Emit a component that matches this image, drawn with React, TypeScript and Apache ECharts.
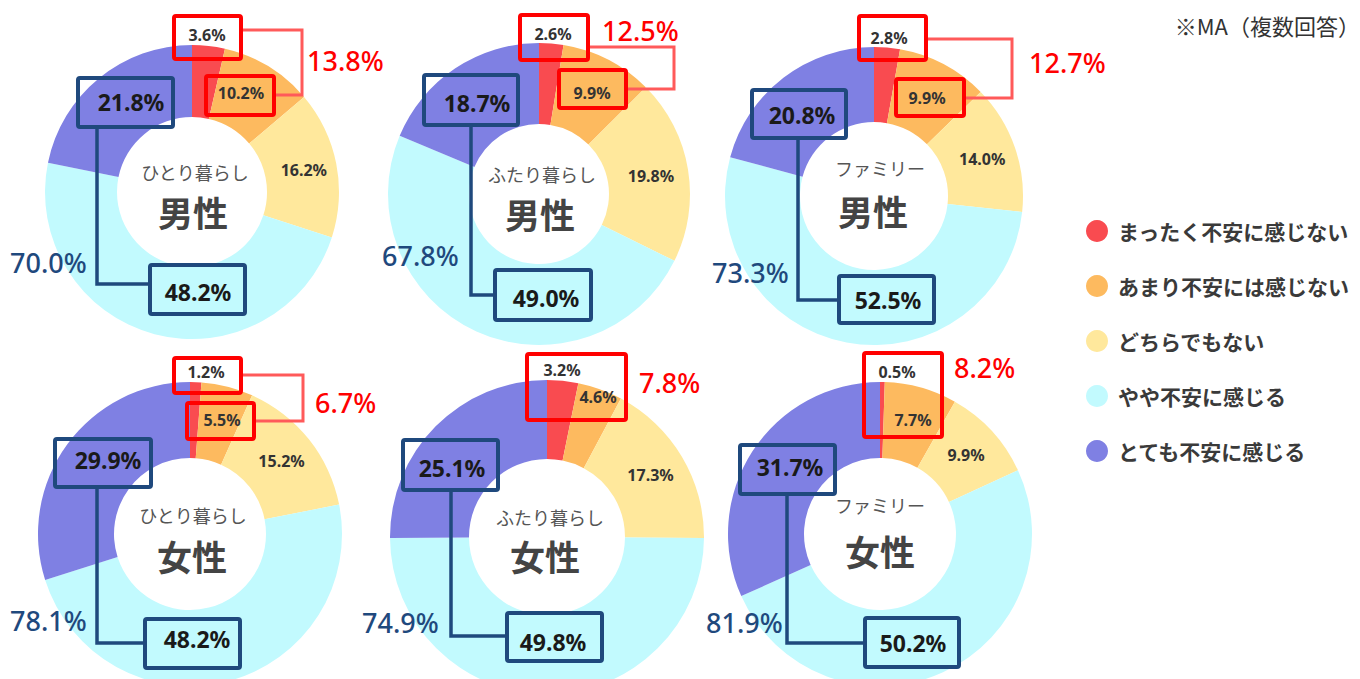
import React, { useEffect, useRef } from "react";
import * as echarts from "echarts";

// ---- data ----
const categories = [
  "まったく不安に感じない",
  "あまり不安には感じない",
  "どちらでもない",
  "やや不安に感じる",
  "とても不安に感じる",
];
const groups = ["ひとり暮らし", "ふたり暮らし", "ファミリー", "ひとり暮らし", "ふたり暮らし", "ファミリー"];
const genders = ["男性", "男性", "男性", "女性", "女性", "女性"];
const notAtAll = [3.6, 2.6, 2.8, 1.2, 3.2, 0.5];
const notVery = [10.2, 9.9, 9.9, 5.5, 4.6, 7.7];
const neutral = [16.2, 19.8, 14.0, 15.2, 17.3, 9.9];
const somewhat = [48.2, 49.0, 52.5, 48.2, 49.8, 50.2];
const veryMuch = [21.8, 18.7, 20.8, 29.9, 25.1, 31.7];
const notAnxiousTotal = [13.8, 12.5, 12.7, 6.7, 7.8, 8.2];
const anxiousTotal = [70.0, 67.8, 73.3, 78.1, 74.9, 81.9];
const note = "※MA（複数回答）";

// ---- styles / layout ----
const colors = ["#F94B50", "#FDBA5F", "#FFE89C", "#C2FAFE", "#7F80E3"];
const RED = "#FF0000";
const RED_LINE = "#FF5A5A";
const NAVY = "#1F497D";
const NUM_FONT = "'Noto Sans', 'Noto Sans CJK JP', sans-serif";
const JP_FONT = "'Noto Sans CJK JP', 'Noto Sans', sans-serif";

type Pt = [number, number];
type Box = [number, number, number, number];
interface Layout {
  c: Pt;
  r: [number, number];
  sub: Pt;
  gen: Pt;
  redBoxes: Box[];
  lbl0: Pt;
  lbl1: Pt;
  redLine: Pt[] | null;
  redTot: Pt;
  navyTop: Box;
  navyBot: Box;
  lblV: Pt;
  lblS: Pt;
  navyLine: Pt[];
  navyTot: Pt;
}

const layouts: Layout[] = [
  {
    c: [192, 192], r: [75, 147], sub: [195, 172], gen: [193, 211],
    redBoxes: [[172, 14, 71, 47], [204, 74, 72, 43]], lbl0: [207, 35], lbl1: [241, 93],
    redLine: [[243, 30], [302, 30], [302, 95], [276, 95]], redTot: [307, 60],
    navyTop: [76, 76, 99, 53], navyBot: [148, 263, 99, 53], lblV: [131, 102], lblS: [198, 292],
    navyLine: [[97, 129], [97, 284], [148, 284]], navyTot: [10, 262],
  },
  {
    c: [539, 194], r: [70, 151], sub: [542, 174], gen: [540, 213],
    redBoxes: [[518, 13, 72, 49], [557, 68, 71, 42]], lbl0: [553, 34], lbl1: [592, 93],
    redLine: [[590, 47], [674, 47], [674, 89], [628, 89]], redTot: [602, 30],
    navyTop: [422, 73, 98, 54], navyBot: [493, 268, 100, 54], lblV: [477, 103], lblS: [546, 298],
    navyLine: [[471, 127], [471, 295], [493, 295]], navyTot: [382, 255],
  },
  {
    c: [874, 196], r: [74, 149], sub: [880, 168], gen: [873, 210],
    redBoxes: [[857, 14, 71, 48], [894, 77, 72, 41]], lbl0: [889, 38], lbl1: [927, 98],
    redLine: [[928, 39], [1012, 39], [1012, 98], [966, 98]], redTot: [1029, 62],
    navyTop: [750, 88, 98, 52], navyBot: [837, 274, 99, 51], lblV: [802, 115], lblS: [888, 300],
    navyLine: [[798, 140], [798, 300], [837, 300]], navyTot: [712, 272],
  },
  {
    c: [190, 534], r: [76, 152], sub: [193, 515], gen: [192, 555],
    redBoxes: [[172, 356, 71, 39], [185, 401, 71, 40]], lbl0: [206, 372], lbl1: [222, 420],
    redLine: [[243, 375], [303, 375], [303, 421], [256, 421]], redTot: [315, 402],
    navyTop: [53, 437, 100, 52], navyBot: [143, 617, 99, 53], lblV: [108, 460], lblS: [197, 639],
    navyLine: [[97, 489], [97, 643], [143, 643]], navyTot: [10, 620],
  },
  {
    c: [547, 537], r: [78, 157], sub: [550, 517], gen: [545, 555],
    redBoxes: [[525, 352, 103, 70]], lbl0: [562, 370], lbl1: [598, 397],
    redLine: null, redTot: [639, 382],
    navyTop: [401, 438, 99, 54], navyBot: [505, 611, 99, 52], lblV: [452, 468], lblS: [553, 642],
    navyLine: [[451, 492], [451, 636], [505, 636]], navyTot: [362, 622],
  },
  {
    c: [880, 534], r: [76, 152], sub: [880, 505], gen: [880, 550],
    redBoxes: [[862, 351, 82, 88]], lbl0: [897, 372], lbl1: [913, 420],
    redLine: null, redTot: [954, 367],
    navyTop: [738, 443, 99, 53], navyBot: [863, 616, 98, 53], lblV: [790, 467], lblS: [913, 643],
    navyLine: [[787, 496], [787, 643], [863, 643]], navyTot: [706, 622],
  },
];

const fmt = (v: number) => v.toFixed(1) + "%";

function rectEl(b: Box, color: string, lw: number) {
  return {
    type: "rect",
    z: 100,
    silent: true,
    shape: { x: b[0] + lw / 2, y: b[1] + lw / 2, width: b[2] - lw, height: b[3] - lw, r: 2 },
    style: { fill: "none", stroke: color, lineWidth: lw },
  };
}

function textEl(p: Pt, text: string, size: number, color: string, weight: string, font: string, align = "center") {
  return {
    type: "text",
    z: 101,
    silent: true,
    x: p[0],
    y: p[1],
    style: {
      text,
      fontSize: size,
      fontWeight: weight,
      fill: color,
      fontFamily: font,
      align,
      verticalAlign: "middle",
    },
  };
}

function buildOption() {
  const series: any[] = [];
  const graphics: any[] = [];
  layouts.forEach((L, i) => {
    const vals = [notAtAll[i], notVery[i], neutral[i], somewhat[i], veryMuch[i]];
    series.push({
      type: "pie",
      center: L.c,
      radius: L.r,
      startAngle: 90,
      clockwise: true,
      silent: true,
      avoidLabelOverlap: false,
      itemStyle: { borderWidth: 0 },
      label: {
        show: false,
        position: "inside",
        formatter: (p: any) => fmt(p.value),
        fontSize: 16,
        fontWeight: "bold",
        color: "#333",
        fontFamily: NUM_FONT,
      },
      labelLine: { show: false },
      emphasis: { disabled: true },
      data: vals.map((v, k) => ({
        name: categories[k],
        value: v,
        itemStyle: { color: colors[k] },
        label: { show: k === 2 },
      })),
    });

    // center texts
    graphics.push(textEl(L.sub, groups[i], 18, "#555", "normal", JP_FONT));
    graphics.push(textEl(L.gen, genders[i], 35, "#444", "bold", JP_FONT));

    // red boxes & connector
    L.redBoxes.forEach((b) => graphics.push(rectEl(b, RED, 4)));
    if (L.redLine) {
      graphics.push({
        type: "polyline",
        z: 99,
        silent: true,
        shape: { points: L.redLine },
        style: { stroke: RED_LINE, lineWidth: 3, fill: "none" },
      });
    }
    graphics.push(textEl(L.lbl0, fmt(notAtAll[i]), 16, "#333", "bold", NUM_FONT));
    graphics.push(textEl(L.lbl1, fmt(notVery[i]), 16, "#333", "bold", NUM_FONT));
    graphics.push(textEl(L.redTot, fmt(notAnxiousTotal[i]), 27, RED, "500", NUM_FONT, "left"));

    // navy boxes & connector
    graphics.push(rectEl(L.navyTop, NAVY, 4));
    graphics.push(rectEl(L.navyBot, NAVY, 4));
    graphics.push({
      type: "polyline",
      z: 99,
      silent: true,
      shape: { points: L.navyLine },
      style: { stroke: NAVY, lineWidth: 3.5, fill: "none" },
    });
    graphics.push(textEl(L.lblV, fmt(veryMuch[i]), 23, "#1a1a1a", "bold", NUM_FONT));
    graphics.push(textEl(L.lblS, fmt(somewhat[i]), 23, "#1a1a1a", "bold", NUM_FONT));
    graphics.push(textEl(L.navyTot, fmt(anxiousTotal[i]), 27, NAVY, "500", NUM_FONT, "left"));
  });

  graphics.push(textEl([1360, 25], note, 22, "#333", "normal", JP_FONT, "right"));

  return {
    animation: false,
    backgroundColor: "#ffffff",
    legend: {
      data: categories,
      orient: "vertical",
      left: 1081,
      top: 215,
      icon: "circle",
      itemWidth: 22,
      itemHeight: 22,
      itemGap: 33,
      selectedMode: false,
      textStyle: {
        fontSize: 21,
        fontWeight: "bold",
        color: "#3a3a3a",
        fontFamily: JP_FONT,
        padding: [0, 0, 0, 5],
      },
    },
    series,
    graphic: { elements: graphics },
  };
}

export default function App() {
  const ref = useRef<HTMLDivElement>(null);
  useEffect(() => {
    if (!ref.current) return;
    const chart = echarts.init(ref.current, undefined, { renderer: "svg" });
    chart.setOption(buildOption() as any);
    return () => chart.dispose();
  }, []);
  return (
    <div
      ref={ref}
      style={{ position: "fixed", left: 0, top: 0, width: 1360, height: 679, background: "#fff" }}
    />
  );
}
